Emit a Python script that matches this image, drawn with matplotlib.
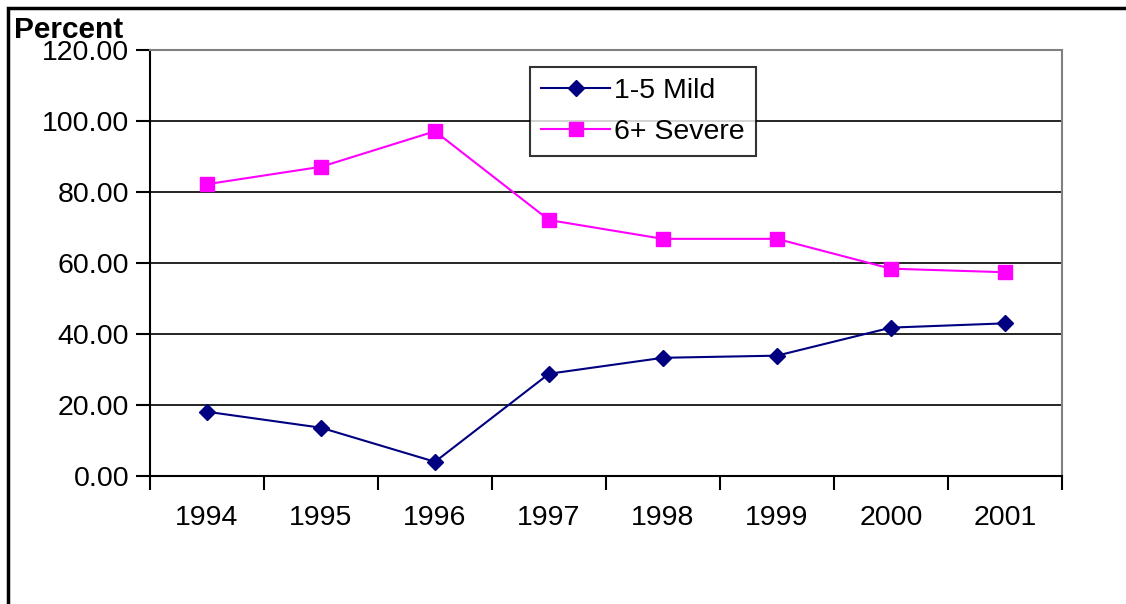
import matplotlib.pyplot as plt
import numpy as np

years = ["1994", "1995", "1996", "1997", "1998", "1999", "2000", "2001"]
mild = [18.1, 13.6, 4.0, 28.8, 33.3, 33.9, 41.8, 43.0]
severe = [82.2, 87.1, 97.1, 72.1, 66.8, 66.8, 58.4, 57.4]

plt.rcParams['font.family'] = ['Liberation Sans', 'DejaVu Sans']

fig = plt.figure(figsize=(11.26, 6.04), dpi=100)
ax = fig.add_axes([150 / 1126, 128 / 604, 912 / 1126, 426 / 604])

x = np.arange(len(years))
ax.plot(x, mild, color='#000080', marker='D', markersize=8.5, linewidth=1.5, label="1-5 Mild")
ax.plot(x, severe, color='#FF00FF', marker='s', markersize=10, linewidth=1.5, label="6+ Severe")

ax.set_xlim(-0.5, len(years) - 0.5)
ax.set_ylim(0, 120)

# category boundaries get the tick marks, labels sit between them
ax.set_xticks(np.arange(-0.5, len(years), 1.0))
ax.set_xticklabels([])
ax.set_xticks(x, minor=True)
ax.set_xticklabels(years, minor=True, fontsize=20.5)
ax.tick_params(axis='x', which='major', length=10, width=1.5, direction='out')
ax.tick_params(axis='x', which='minor', length=0, pad=21)

yticks = np.arange(0, 121, 20)
ax.set_yticks(yticks)
ax.set_yticklabels([f"{v:.2f}" for v in yticks], fontsize=20.5)
ax.tick_params(axis='y', length=10, width=1.5, direction='out', pad=5)

ax.grid(axis='y', color='black', linewidth=1.2)
ax.set_axisbelow(True)
for side in ['left', 'bottom']:
    ax.spines[side].set_linewidth(1.5)
    ax.spines[side].set_color('black')
for side in ['top', 'right']:
    ax.spines[side].set_linewidth(1.5)
    ax.spines[side].set_color('#808080')

fig.text(14 / 1126, 1 - 38 / 604, "Percent", fontsize=21.5, fontweight='bold', ha='left', va='baseline')

leg = ax.legend(loc='upper left', bbox_to_anchor=((530 - 150) / 912, (476 - 67) / 426),
                fontsize=20.5, frameon=True, fancybox=False, borderpad=0.4,
                handlelength=2.4, handletextpad=0.15, labelspacing=0.5, borderaxespad=0)
leg.get_frame().set_edgecolor('black')
leg.get_frame().set_linewidth(1.5)

# outer chart frame
frame = plt.Rectangle((8 / 1126, -0.05), 1.2, 1 - 8 / 604 + 0.05, transform=fig.transFigure,
                      fill=False, edgecolor='black', linewidth=2.5)
fig.add_artist(frame)

plt.savefig("out.png", dpi=100)
